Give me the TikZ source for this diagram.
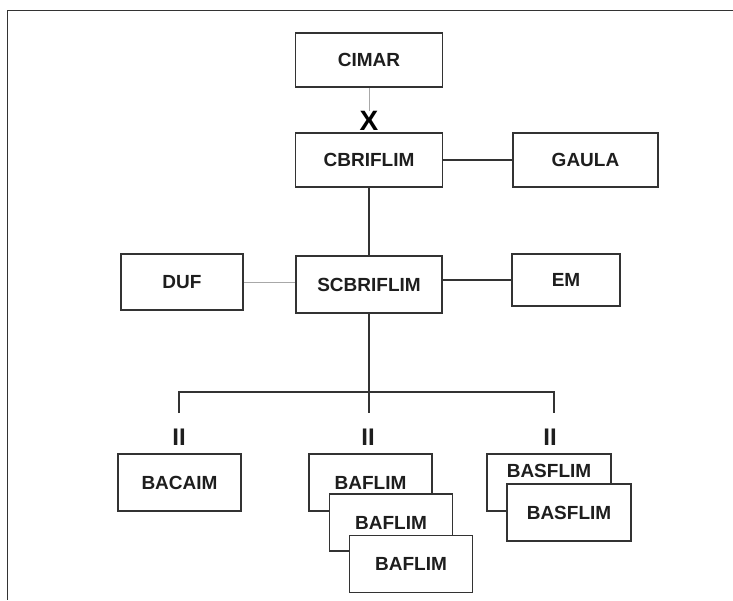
\documentclass[tikz,border=0pt]{standalone}
\usepackage{fontspec}
\setmainfont{Liberation Sans}
\definecolor{boxgray}{HTML}{333333}
\definecolor{txtgray}{HTML}{1E1E1E}
\definecolor{palegray}{HTML}{A8A8A8}

\begin{document}
\begin{tikzpicture}[x=1pt,y=-1pt,
 box/.style={draw=boxgray, line width=1.8pt, fill=white, text=txtgray,
   minimum width=147pt, minimum height=54pt,
   font=\fontsize{19}{19}\selectfont\bfseries},
 sign/.style={text=txtgray, inner sep=0pt, font=\fontsize{24}{24}\selectfont\bfseries},
 link/.style={draw=boxgray, line width=2pt},
 faint link/.style={draw=palegray, line width=1pt}]
 \useasboundingbox (0,0) rectangle (733,600);
 \draw[boxgray, line width=0.9pt] (733,10.5) -- (7,10.5) -- (7,600); %frame
 % top levels
 \node[box] (cimar) at (369,60) {CIMAR};
 \node[box] (cbr) at (369,160) {CBRIFLIM};
 \node[box, minimum width=145pt] (gaula) at (585.5,160) {GAULA};
 \node[box, minimum width=146pt, minimum height=57pt] (scb) at (369,284.5) {SCBRIFLIM};
 \node[box, minimum width=122pt, minimum height=56pt] (duf) at (182,282) {DUF};
 \node[box, minimum width=108pt, minimum height=52pt] (em) at (566,280) {EM};
 \node[sign, font=\fontsize{28}{28}\selectfont\bfseries, text=black] (x) at (369,121) {X};
 \draw[faint link] (cimar.south) -- (x.north);
 \draw[link] (cbr.east) -- (gaula.west);
 \draw[link] (cbr.south) -- (scb.north);
 \draw[faint link] (duf.east) -- (duf.east -| scb.west);
 \draw[link] (em.west -| scb.east) -- (em.west);
 % branches
 \coordinate (d1) at (179,413);
 \coordinate (d2) at (369,413);
 \coordinate (d3) at (554,413);
 \draw[link] (scb.south) -- (d2);
 \draw[link] (d1) -- (179,392) -- (554,392) -- (d3);
 \node[sign] (ii1) at (179,437) {II};
 \node[sign] (ii2) at (368,437) {II};
 \node[sign] (ii3) at (550,437) {II};
 % bottom boxes
 \node[box, minimum width=123pt, minimum height=57pt] (bacaim) at (179.5,482.5) {BACAIM};
 \foreach \i/\x/\y in {1/370.5/482.5, 2/391/522.5, 3/411/564}
   \node[box, minimum width=123pt, minimum height=57pt] (baflim\i) at (\x,\y) {BAFLIM};
 \node[box, minimum width=124pt, minimum height=57pt] (basflim1) at (549,482.5) {};
 \node[text=txtgray, font=\fontsize{19}{19}\selectfont\bfseries] at ([yshift=12pt]basflim1.center) {BASFLIM};
 \node[box, minimum width=124pt, minimum height=57pt] (basflim2) at (569,512.5) {BASFLIM};
\end{tikzpicture}
\end{document}
